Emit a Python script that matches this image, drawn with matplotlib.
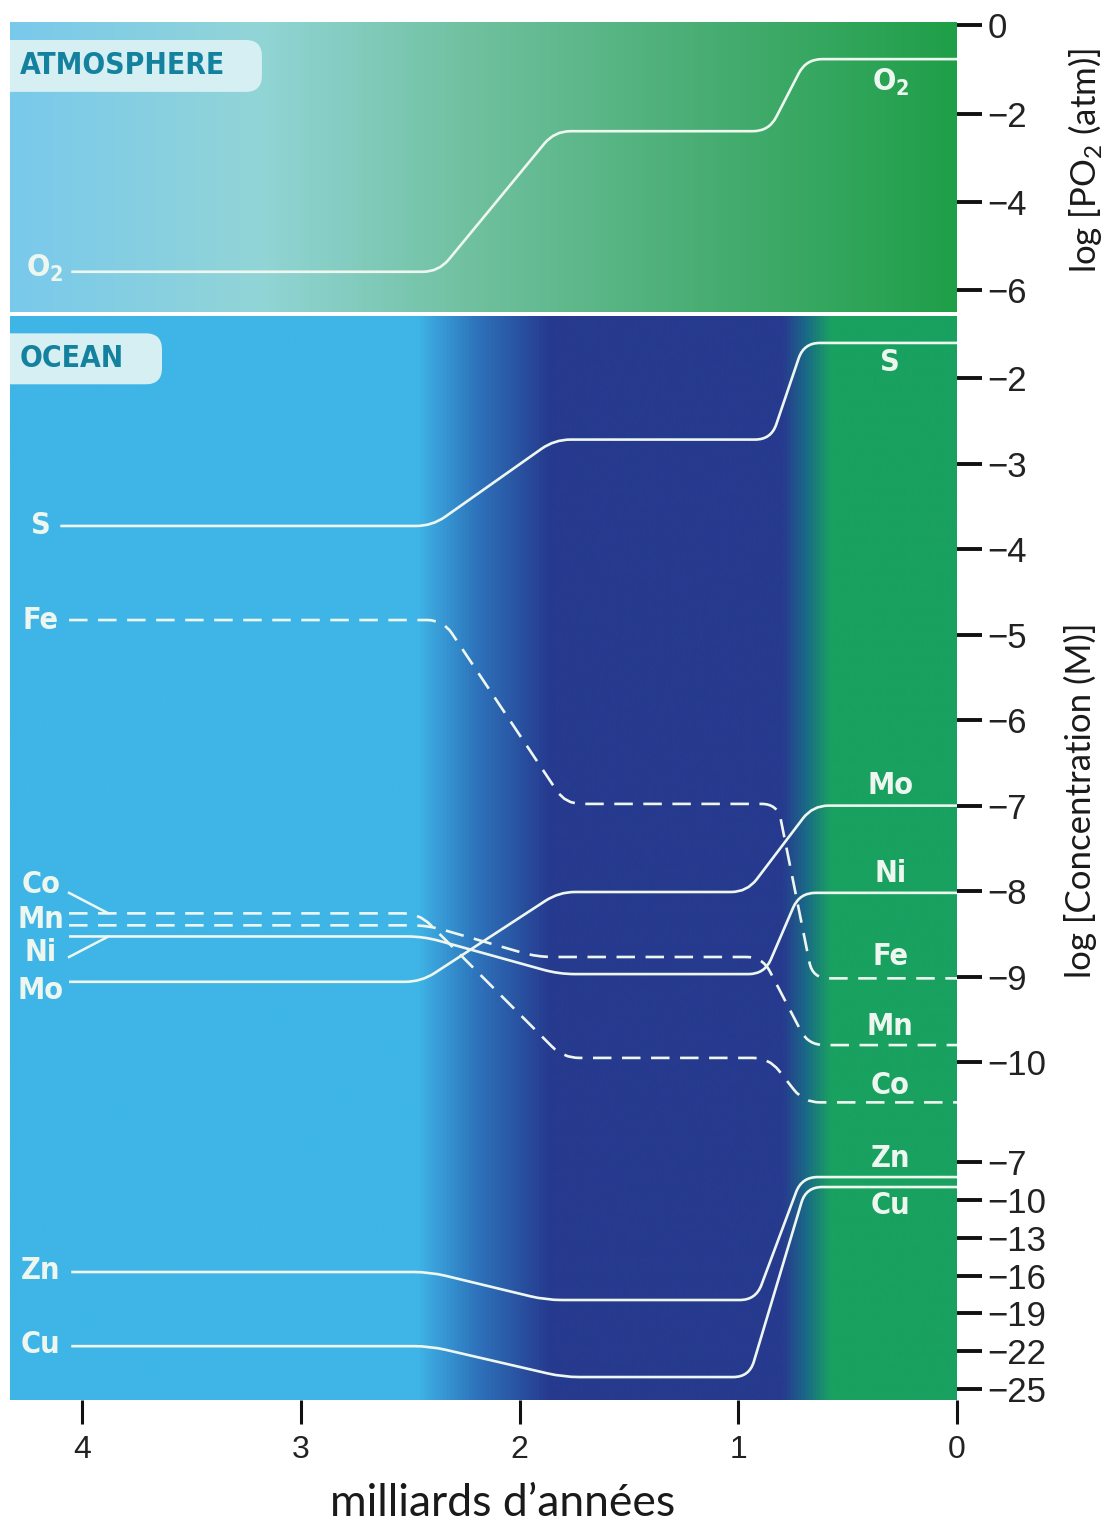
import numpy as np
import matplotlib.pyplot as plt
from matplotlib.path import Path
from matplotlib.patches import PathPatch, FancyBboxPatch
from matplotlib.colors import LinearSegmentedColormap

plt.rcParams['font.family'] = ['Liberation Sans', 'DejaVu Sans']
plt.rcParams['axes.unicode_minus'] = True
plt.rcParams['mathtext.fontset'] = 'custom'
plt.rcParams['mathtext.rm'] = 'DejaVu Sans:stretch=condensed'

# --- données ---
# temps en milliards d'années, valeurs en log
t_o2 = [4.05, 2.37, 1.84, 0.86, 0.69, 0.0]
v_o2 = [-5.58, -5.58, -2.40, -2.40, -0.77, -0.77]

t_s = [4.10, 2.40, 1.84, 0.85, 0.70, 0.0]
v_s = [-3.73, -3.73, -2.72, -2.72, -1.59, -1.59]

t_fe = [4.06, 2.35, 1.79, 0.82, 0.66, 0.0]
v_fe = [-4.83, -4.83, -6.98, -6.98, -9.02, -9.02]

t_co = [4.06, 2.46, 1.80, 0.86, 0.70, 0.0]
v_co = [-8.26, -8.26, -9.95, -9.95, -10.47, -10.47]

t_mn = [4.06, 2.42, 1.92, 0.89, 0.68, 0.0]
v_mn = [-8.40, -8.40, -8.77, -8.77, -9.80, -9.80]

t_ni = [4.06, 2.44, 1.82, 0.88, 0.72, 0.0]
v_ni = [-8.53, -8.53, -8.97, -8.97, -8.02, -8.02]

t_mo = [4.06, 2.45, 1.82, 0.96, 0.66, 0.0]
v_mo = [-9.06, -9.06, -8.01, -8.01, -7.00, -7.00]

t_zn = [4.05, 2.41, 1.88, 0.92, 0.71, 0.0]
v_zn = [-15.72, -15.72, -17.94, -17.94, -8.19, -8.19]

t_cu = [4.05, 2.41, 1.80, 0.95, 0.69, 0.0]
v_cu = [-21.6, -21.6, -24.05, -24.05, -8.98, -8.98]

x_ticks = [4, 3, 2, 1, 0]
atm_ticks = [0, -2, -4, -6]
oc_ticks = [-2, -3, -4, -5, -6, -7, -8, -9, -10]
cu_ticks = [-7, -10, -13, -16, -19, -22, -25]

# couleurs de fond (position en temps, couleur)
atm_bg_t = [4.33, 3.2, 2.2, 1.2, 0.0]
atm_bg_c = ['#79c9ec', '#92d5d7', '#6fc09e', '#4aae75', '#1f9f48']
oc_bg_t = [4.33, 2.47, 2.20, 1.86, 0.79, 0.68, 0.57, 0.0]
oc_bg_c = ['#3fb5e7', '#3fb5e7', '#2e74bc', '#263a8e', '#263a8e', '#1a6c86', '#19a160', '#19a160']

LINE = '#eef7ef'
TEAL = '#14829f'
T_LEFT = 4.33
COND = dict(family='DejaVu Sans', stretch='condensed', weight='bold')

W, H = 1114, 1526
fig = plt.figure(figsize=(W / 100, H / 100), dpi=100)


def px_axes(left, top, right, bottom):
    return fig.add_axes([left / W, 1 - bottom / H, (right - left) / W, (bottom - top) / H])


ax_atm = px_axes(10, 22, 957, 312)
ax_oc = px_axes(10, 316, 957, 1400)
ax_cu = px_axes(10, 316, 957, 1400)
ax_cu.patch.set_visible(False)

lims = {ax_atm: (-6.49, 0.07), ax_oc: (-13.95, -1.275), ax_cu: (-25.87, 60.1)}


def set_limits():
    for a, (y0, y1) in lims.items():
        a.set_xlim(T_LEFT, 0)
        a.set_ylim(y0, y1)


def gradient(ax, stops_t, colors):
    pos = [(T_LEFT - t) / T_LEFT for t in stops_t]
    cmap = LinearSegmentedColormap.from_list('bg', list(zip(pos, colors)))
    grad = np.linspace(0, 1, 1024).reshape(1, -1)
    y0, y1 = lims[ax]
    ax.imshow(grad, cmap=cmap, aspect='auto', extent=[T_LEFT, 0, y0, y1],
              zorder=0, interpolation='bilinear')


gradient(ax_atm, atm_bg_t, atm_bg_c)
gradient(ax_oc, oc_bg_t, oc_bg_c)
set_limits()


def rounded_path(ax, ts, vs, r=16):
    # coins arrondis calculés en pixels, puis ramenés en données
    pts = ax.transData.transform(np.column_stack([ts, vs]))
    verts = [pts[0]]
    codes = [Path.MOVETO]
    for i in range(1, len(pts) - 1):
        p, v, n = pts[i - 1], pts[i], pts[i + 1]
        d1, d2 = p - v, n - v
        l1, l2 = np.hypot(*d1), np.hypot(*d2)
        c = min(r, 0.45 * l1, 0.45 * l2)
        verts += [v + d1 / l1 * c, v, v + d2 / l2 * c]
        codes += [Path.LINETO, Path.CURVE3, Path.CURVE3]
    verts.append(pts[-1])
    codes.append(Path.LINETO)
    return Path(ax.transData.inverted().transform(np.array(verts)), codes)


def draw_series(ax, ts, vs, dashed=False):
    ls = (0, (7, 4)) if dashed else '-'
    ax.add_patch(PathPatch(rounded_path(ax, ts, vs), fill=False, ec=LINE,
                           lw=1.9, ls=ls, capstyle='butt', zorder=3))


draw_series(ax_atm, t_o2, v_o2)
draw_series(ax_oc, t_s, v_s)
draw_series(ax_oc, t_fe, v_fe, dashed=True)
draw_series(ax_oc, t_co, v_co, dashed=True)
draw_series(ax_oc, t_mn, v_mn, dashed=True)
draw_series(ax_oc, t_ni, v_ni)
draw_series(ax_oc, t_mo, v_mo)
draw_series(ax_cu, t_zn, v_zn)
draw_series(ax_cu, t_cu, v_cu)

# traits de rappel pour Co et Ni
ax_oc.plot([4.06, 3.88], [-8.02, v_co[0]], color=LINE, lw=1.8, zorder=3)
ax_oc.plot([4.06, 3.88], [-8.77, v_ni[0]], color=LINE, lw=1.8, zorder=3)

# étiquettes des courbes
lab = dict(color=LINE, fontsize=22, ha='center', va='center', zorder=4, **COND)
O2 = r'O$_\mathregular{2}$'
ax_atm.text(4.17, -5.50, O2, **lab)
ax_atm.text(0.305, -1.30, O2, **lab)
for txt, y in [('S', -3.72), ('Fe', -4.84), ('Co', -7.92), ('Mn', -8.33),
               ('Ni', -8.72), ('Mo', -9.16)]:
    ax_oc.text(4.19, y, txt, **lab)
for txt, y in [('S', -1.82), ('Mo', -6.77), ('Ni', -7.79), ('Fe', -8.77),
               ('Mn', -9.58), ('Co', -10.27)]:
    ax_oc.text(0.305, y, txt, **lab)
ax_cu.text(4.19, -15.56, 'Zn', **lab)
ax_cu.text(4.19, -21.5, 'Cu', **lab)
ax_cu.text(0.305, -6.68, 'Zn', **lab)
ax_cu.text(0.305, -10.41, 'Cu', **lab)

# cartouches ATMOSPHERE / OCEAN
def tag(ax, text, right, top, bottom, h_px):
    box = FancyBboxPatch((-0.05, bottom), right + 0.05, top - bottom,
                         boxstyle='round,pad=0,rounding_size=0.017',
                         mutation_aspect=947 / h_px, transform=ax.transAxes,
                         fc='#d6eff3', ec='none', zorder=2, clip_on=True)
    ax.add_patch(box)
    ax.text(0.0106, (top + bottom) / 2, text, transform=ax.transAxes, color=TEAL,
            fontsize=21.5, ha='left', va='center', zorder=4, **COND)


tag(ax_atm, 'ATMOSPHERE', 0.266, 0.938, 0.759, 290)
tag(ax_oc, 'OCEAN', 0.1605, 0.984, 0.937, 1084)

# axes
for a in (ax_atm, ax_oc, ax_cu):
    for s in a.spines.values():
        s.set_visible(False)
    a.yaxis.set_ticks_position('right')
    a.tick_params(axis='y', left=False, labelleft=False, right=True, labelright=True,
                  direction='out', length=18, width=2.8, pad=4, labelsize=25,
                  color='#111111', labelcolor='#222222')

ax_atm.set_xticks([])
ax_cu.set_xticks([])
ax_atm.set_yticks(atm_ticks)
ax_oc.set_yticks(oc_ticks)
ax_cu.set_yticks(cu_ticks)
ax_oc.set_xticks(x_ticks)
ax_oc.tick_params(axis='x', direction='out', length=17, width=2.2, pad=8,
                  labelsize=23, color='#111111', labelcolor='#222222')
set_limits()

fig.text(0.974, 0.895, r'log [PO$_\mathregular{2}$ (atm)]', rotation=90, ha='center',
         va='center', fontsize=25, family=['Lato', 'DejaVu Sans'], color='#1a1a1a')
fig.text(0.9695, 0.4757, 'log [Concentration (M)]', rotation=90, ha='center',
         va='center', fontsize=25, family=['Lato', 'DejaVu Sans'], color='#1a1a1a')
fig.text(503 / W, 1 - 1503 / H, 'milliards d’années', ha='center',
         va='center', fontsize=32, family=['Lato', 'DejaVu Sans'], color='#1a1a1a')

fig.savefig('out.png', dpi=100)
